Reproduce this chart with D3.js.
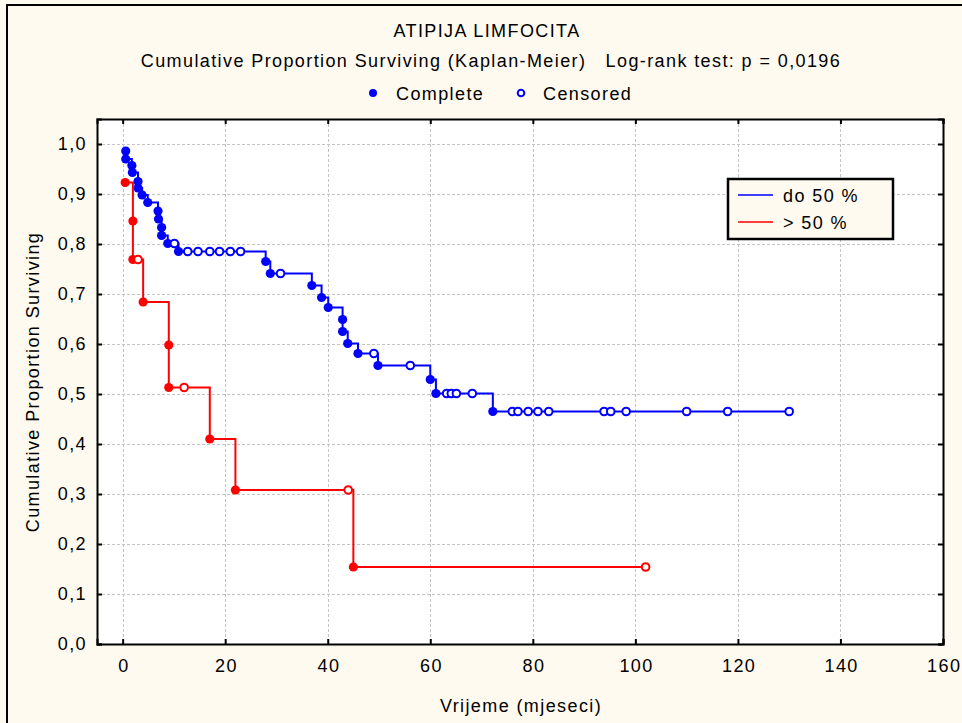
<!DOCTYPE html>
<html><head><meta charset="utf-8">
<script src="https://cdn.jsdelivr.net/npm/d3@7"></script>
<style>body{margin:0;background:#fffaef;} svg{display:block;font-family:"Liberation Sans",Arial,sans-serif;} text{letter-spacing:1.4px;}</style>
</head><body>
<svg id="c" width="962" height="723"></svg>
<script>
// ---- data ----
const title = "ATIPIJA LIMFOCITA";
const subtitle = "Cumulative Proportion Surviving (Kaplan-Meier)   Log-rank test: p = 0,0196";
const xTicks = [0, 20, 40, 60, 80, 100, 120, 140, 160];
const yTicks = [0, 0.1, 0.2, 0.3, 0.4, 0.5, 0.6, 0.7, 0.8, 0.9, 1.0];
const groupNames = ["do 50 %", "> 50 %"];
const groupColors = ["#0000ff", "#ff0000"];

// group "do 50 %": time, survival, censored flag (1 = censored)
const blueTime = [0.6,0.6,1.8,1.9,3.0,3.0,3.8,4.9,6.9,7.0,7.6,7.6,8.8,10.1,10.9,12.7,14.7,17.0,18.9,21.0,23.0,27.9,28.8,30.8,36.9,38.8,40.1,42.9,42.9,43.9,45.9,49.0,49.8,56.1,60.0,61.1,63.2,64.1,65.1,68.2,72.2,76.0,77.1,79.1,81.0,83.1,93.9,95.2,98.2,110.0,118.0,130.0];
const blueSurv = [0.986,0.970,0.957,0.943,0.925,0.912,0.898,0.883,0.866,0.850,0.833,0.817,0.801,0.801,0.785,0.785,0.785,0.785,0.785,0.785,0.785,0.765,0.741,0.741,0.717,0.693,0.673,0.649,0.625,0.601,0.581,0.581,0.557,0.557,0.529,0.501,0.501,0.501,0.501,0.501,0.465,0.465,0.465,0.465,0.465,0.465,0.465,0.465,0.465,0.465,0.465,0.465];
const blueCens = [0,0,0,0,0,0,0,0,0,0,0,0,0,1,0,1,1,1,1,1,1,0,0,1,0,0,0,0,0,0,0,1,0,1,0,0,1,1,1,1,0,1,1,1,1,1,1,1,1,1,1,1];

// group "> 50 %"
const redTime = [0.5,2,2,3,4,9,9,12,17,22,44,45,102];
const redSurv = [0.923,0.846,0.769,0.769,0.684,0.598,0.513,0.513,0.410,0.308,0.308,0.154,0.154];
const redCens = [0,0,0,1,0,0,0,1,0,0,1,0,1];

// ---- layout ----
const svg = d3.select("#c");
const L = 97, R = 943, T = 119, B = 644;
const FS = 18;
const x = d3.scaleLinear().domain([-5, 160]).range([L, R]);
const y = d3.scaleLinear().domain([0, 1.05]).range([B, T]);
const fmt = d => d3.format(".1f")(d).replace(".", ",");

// outer frame
svg.append("rect").attr("x", 7).attr("y", 5).attr("width", 962).attr("height", 740)
  .attr("fill", "#fffaef").attr("stroke", "#000").attr("stroke-width", 2);

// plot area
svg.append("rect").attr("x", L).attr("y", T).attr("width", R - L).attr("height", B - T).attr("fill", "#fff");

// grid
const grid = svg.append("g").attr("stroke", "#c4c4c4").attr("stroke-width", 1).attr("stroke-dasharray", "3,2");
grid.selectAll(".gx").data(xTicks).join("line")
  .attr("x1", d => Math.round(x(d)) + 0.5).attr("x2", d => Math.round(x(d)) + 0.5).attr("y1", T).attr("y2", B);
grid.selectAll(".gy").data(yTicks).join("line")
  .attr("y1", d => Math.round(y(d)) + 0.5).attr("y2", d => Math.round(y(d)) + 0.5).attr("x1", L).attr("x2", R);

// axes
const axB = svg.append("g").attr("transform", `translate(0,${B})`)
  .call(d3.axisBottom(x).tickValues(xTicks).tickSize(-5).tickPadding(15).tickFormat(d3.format("d")));
const axT = svg.append("g").attr("transform", `translate(0,${T})`)
  .call(d3.axisTop(x).tickValues(xTicks).tickSize(-5).tickFormat(""));
const axL = svg.append("g").attr("transform", `translate(${L},0)`)
  .call(d3.axisLeft(y).tickValues(yTicks).tickSize(-5).tickPadding(10).tickFormat(fmt));
const axR = svg.append("g").attr("transform", `translate(${R},0)`)
  .call(d3.axisRight(y).tickValues(yTicks).tickSize(-5).tickFormat(""));
[axB, axT, axL, axR].forEach(a => {
  a.select(".domain").attr("stroke", "#000").attr("stroke-width", 2);
  a.selectAll(".tick line").attr("stroke", "#000").attr("stroke-width", 2);
  a.selectAll("text").attr("font-size", FS).attr("fill", "#000").attr("font-family", "Liberation Sans, Arial, sans-serif");
});
axB.selectAll("text").attr("dx", "0.7");

// curves
function drawGroup(times, surv, cens, color) {
  const pts = times.map((t, i) => ({t, s: surv[i], c: cens[i]}));
  const line = d3.line().x(d => x(d.t)).y(d => y(d.s)).curve(d3.curveStepAfter);
  svg.append("path").datum(pts).attr("d", line).attr("fill", "none")
    .attr("stroke", color).attr("stroke-width", 2);
  svg.append("g").selectAll("circle").data(pts.filter(d => !d.c)).join("circle")
    .attr("cx", d => x(d.t)).attr("cy", d => y(d.s)).attr("r", 4.6).attr("fill", color);
  svg.append("g").selectAll("circle").data(pts.filter(d => d.c)).join("circle")
    .attr("cx", d => x(d.t)).attr("cy", d => y(d.s)).attr("r", 3.8)
    .attr("fill", "#fff").attr("stroke", color).attr("stroke-width", 2);
}
drawGroup(blueTime, blueSurv, blueCens, groupColors[0]);
drawGroup(redTime, redSurv, redCens, groupColors[1]);

// titles
svg.append("text").attr("x", 487).attr("y", 37).attr("text-anchor", "middle").attr("font-size", FS).text(title);
svg.append("text").attr("x", 491).attr("y", 67).attr("text-anchor", "middle").attr("font-size", FS)
  .attr("xml:space", "preserve").style("white-space", "pre").text(subtitle);

// complete / censored key
svg.append("circle").attr("cx", 373).attr("cy", 93).attr("r", 4).attr("fill", "#0000ff");
svg.append("text").attr("x", 396).attr("y", 100).attr("font-size", FS).text("Complete");
svg.append("circle").attr("cx", 521).attr("cy", 93).attr("r", 3.3).attr("fill", "#fff").attr("stroke", "#0000ff").attr("stroke-width", 2);
svg.append("text").attr("x", 543).attr("y", 100).attr("font-size", FS).text("Censored");

// axis titles
svg.append("text").attr("x", 521).attr("y", 712).attr("text-anchor", "middle").attr("font-size", FS).text("Vrijeme (mjeseci)");
svg.append("text").attr("transform", "translate(39,382) rotate(-90)").attr("text-anchor", "middle").attr("font-size", FS).text("Cumulative Proportion Surviving");

// legend
const lg = svg.append("g");
lg.append("rect").attr("x", 728).attr("y", 179).attr("width", 165).attr("height", 60)
  .attr("fill", "#fffaef").attr("stroke", "#000").attr("stroke-width", 2.5);
groupNames.forEach((g, i) => {
  const yy = 195 + i * 27;
  lg.append("line").attr("x1", 738).attr("x2", 773).attr("y1", yy).attr("y2", yy).attr("stroke", groupColors[i]).attr("stroke-width", 1.5);
  lg.append("text").attr("x", 783).attr("y", yy + 7).attr("font-size", FS).attr("xml:space", "preserve").style("white-space", "pre").text(g);
});
</script>
</body></html>
